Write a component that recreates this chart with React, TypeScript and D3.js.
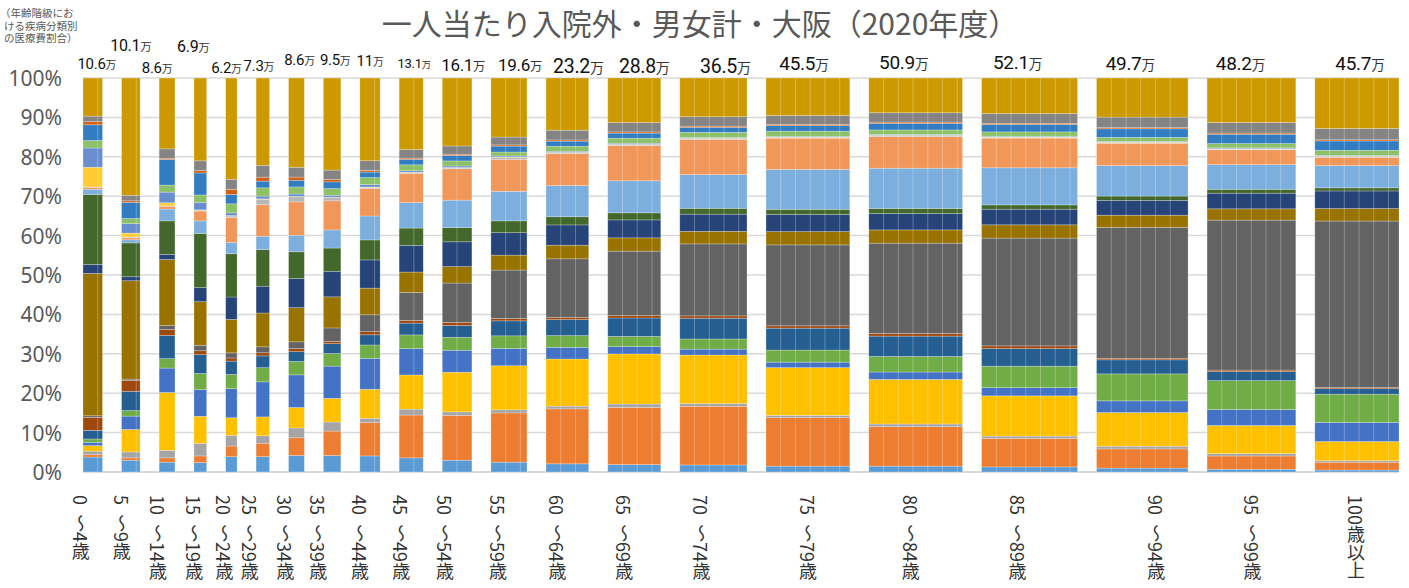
import React, { useRef, useEffect } from "react";
import * as d3 from "d3";

// 年齢階級
const ageGroups = [
  "0～4歳", "5～9歳", "10～14歳", "15～19歳", "20～24歳", "25～29歳", "30～34歳",
  "35～39歳", "40～44歳", "45～49歳", "50～54歳", "55～59歳", "60～64歳", "65～69歳",
  "70～74歳", "75～79歳", "80～84歳", "85～89歳", "90～94歳", "95～99歳", "100歳以上",
];

// 一人当たり医療費（万円）= 棒の幅
const totals = [10.6, 10.1, 8.6, 6.9, 6.2, 7.3, 8.6, 9.5, 11, 13.1, 16.1, 19.6, 23.2, 28.8, 36.5, 45.5, 50.9, 52.1, 49.7, 48.2, 45.7];

// 疾病分類別の割合（%）、下から順
const kansen = [3.8, 3.0, 2.5, 2.4, 3.9, 3.9, 4.2, 4.2, 4.1, 3.6, 3.0, 2.5, 2.1, 1.9, 1.8, 1.5, 1.5, 1.3, 1.0, 0.7, 0.5];
const shinseibutsu = [0.6, 0.6, 1.1, 1.7, 2.7, 3.4, 4.5, 6.2, 8.5, 10.9, 11.4, 12.5, 14.1, 14.6, 15.0, 12.4, 10.1, 7.3, 4.9, 3.4, 2.0];
const ketsueki = [0.9, 1.5, 1.9, 3.2, 2.7, 1.9, 2.5, 2.3, 1.1, 1.5, 0.9, 0.8, 0.7, 0.9, 0.7, 0.6, 0.7, 0.6, 0.7, 0.6, 0.4];
const naibunpi = [1.4, 5.7, 14.7, 6.9, 4.5, 4.8, 5.2, 6.0, 7.4, 8.7, 10.1, 11.2, 12.1, 12.8, 12.4, 12.2, 11.4, 10.3, 8.6, 7.2, 4.9];
const seishin = [0.85, 3.4, 6.2, 6.8, 7.4, 8.9, 8.3, 8.2, 7.9, 6.7, 5.6, 4.4, 3.0, 1.9, 1.5, 1.4, 1.9, 2.1, 3.0, 4.1, 4.9];
const shinkei = [0.85, 1.4, 2.4, 4.1, 3.6, 3.6, 3.4, 3.2, 3.4, 3.5, 3.3, 3.2, 3.0, 2.6, 2.6, 3.1, 4.0, 5.5, 6.9, 7.4, 7.2];
const me = [2.2, 4.9, 5.9, 4.8, 3.4, 3.0, 2.5, 2.5, 2.6, 3.0, 3.0, 3.8, 4.1, 4.7, 5.3, 5.6, 5.2, 4.5, 3.6, 2.3, 1.4];
const mimi = [3.3, 2.8, 1.5, 1.0, 0.8, 0.8, 0.8, 0.6, 0.8, 0.7, 0.8, 0.6, 0.6, 0.6, 0.6, 0.6, 0.7, 0.7, 0.4, 0.4, 0.3];
const junkanki = [0.4, 0.3, 1.0, 1.4, 1.3, 1.5, 1.7, 3.4, 4.3, 7.1, 10.0, 12.3, 15.0, 16.5, 18.4, 20.7, 23.1, 27.6, 33.5, 38.4, 42.6];
const kokyuki = [36.2, 25.0, 16.8, 11.1, 8.5, 8.6, 8.7, 7.9, 6.8, 5.2, 4.2, 3.8, 3.5, 3.4, 3.2, 3.4, 3.4, 3.4, 3.1, 2.9, 3.2];
const shokaki = [2.3, 1.0, 1.3, 3.6, 5.7, 6.8, 7.4, 6.5, 7.2, 6.8, 6.3, 5.7, 5.2, 4.6, 4.4, 4.4, 4.2, 4.0, 3.8, 4.0, 4.5];
const hifu = [17.8, 8.6, 8.5, 13.8, 11.0, 9.3, 6.8, 5.9, 5.1, 4.4, 3.6, 3.0, 2.1, 1.8, 1.5, 1.3, 1.3, 1.1, 1.1, 1.0, 0.8];
const kinkokkaku = [1.3, 0.8, 3.0, 3.2, 2.9, 3.4, 4.2, 4.6, 6.1, 6.5, 7.0, 7.5, 8.0, 8.2, 8.6, 10.2, 10.3, 9.5, 7.8, 6.3, 5.7];
const jinnyoro = [0.5, 0.5, 0.7, 2.5, 6.3, 8.0, 8.5, 7.4, 7.0, 7.4, 8.0, 8.1, 8.2, 9.0, 9.0, 8.0, 8.1, 7.6, 5.7, 3.8, 2.1];
const ninshin = [0.1, 0.2, 0.1, 0.2, 0.4, 1.4, 1.3, 0.8, 0.3, 0.2, 0.2, 0.5, 0.2, 0.2, 0.2, 0.2, 0.2, 0.2, 0.2, 0.2, 0.2];
const shusanki = [5.0, 1.0, 0.8, 0.1, 0.1, 0.1, 0.1, 0.1, 0.1, 0.1, 0.1, 0.1, 0.1, 0.1, 0.1, 0.1, 0.1, 0.1, 0.1, 0.1, 0.1];
const senten = [4.9, 2.4, 2.7, 1.9, 0.7, 0.7, 0.6, 0.5, 0.6, 0.4, 0.4, 0.3, 0.3, 0.3, 0.2, 0.2, 0.2, 0.2, 0.2, 0.2, 0.2];
const shojo = [1.9, 1.3, 1.8, 1.9, 2.3, 2.1, 1.8, 1.7, 1.8, 1.5, 1.3, 1.0, 1.3, 1.3, 1.3, 1.3, 1.2, 1.1, 1.0, 1.1, 1.3];
const sonsho = [4.0, 4.1, 6.5, 5.6, 2.4, 1.7, 1.7, 1.7, 1.4, 1.4, 1.4, 1.5, 1.3, 1.3, 1.3, 1.4, 1.7, 1.9, 2.2, 2.4, 2.4];
const tokushu = [0.8, 0.4, 0.3, 0.6, 1.3, 1.0, 0.8, 0.6, 0.4, 0.3, 0.3, 0.3, 0.3, 0.3, 0.3, 0.3, 0.3, 0.3, 0.3, 0.3, 0.3];
const kenko = [1.4, 1.4, 2.4, 2.5, 2.5, 3.0, 2.5, 2.4, 2.5, 2.2, 2.1, 2.0, 2.5, 2.4, 2.4, 2.3, 2.4, 2.5, 2.7, 2.7, 2.9];
const sonota = [9.7, 29.8, 18.0, 21.1, 25.8, 22.2, 22.7, 23.4, 21.1, 18.2, 17.3, 15.0, 13.4, 11.4, 9.9, 9.6, 8.9, 9.1, 10.0, 11.4, 12.9];

const categoryNames = [
  "感染症", "新生物", "血液", "内分泌", "精神", "神経", "眼", "耳", "循環器", "呼吸器", "消化器",
  "皮膚", "筋骨格", "腎尿路", "妊娠", "周産期", "先天奇形", "症状", "損傷", "特殊目的", "健康状態", "その他",
];
const categoryValues = [
  kansen, shinseibutsu, ketsueki, naibunpi, seishin, shinkei, me, mimi, junkanki, kokyuki, shokaki,
  hifu, kinkokkaku, jinnyoro, ninshin, shusanki, senten, shojo, sonsho, tokushu, kenko, sonota,
];
const yTicks = [0, 0.1, 0.2, 0.3, 0.4, 0.5, 0.6, 0.7, 0.8, 0.9, 1];

const palette = [
  "#5B9BD5", "#ED7D31", "#A5A5A5", "#FFC000", "#4472C4", "#70AD47", "#255E91", "#9E480E", "#636363", "#997300", "#264478",
  "#43682B", "#7CAFDD", "#F1975A", "#B7B7B7", "#FFCD33", "#698ED0", "#8CC168", "#327DC2", "#D26012", "#848484", "#CC9A00",
];

// 金額ラベル・年齢ラベルの手置き位置（棒中心からのずれ）
const labelY = [69, 51, 73, 52, 73, 71, 65, 65, 66, 68, 71, 71, 73, 73, 73, 70, 69, 69, 70, 70, 70];
const labelSize = [15, 16, 15, 16, 15, 15, 15, 15, 15, 13, 17, 17, 19.5, 19.5, 19.5, 19, 19, 19, 19, 19, 19];
const labelDx = [4, 0, -10, -7, -5, -4, 3, 3, 0, 3, 6, 11, 11, 10, 12, -4, -12, -12, -12, -11, 3];
const ageDx = [-12, -9, -9, -6, -7, -13, -11, -14, -10, -10, -12, -11, -10, -10, -12, 0, -5, -12, 14, 1, -1];

const JP = "'Noto Sans CJK JP', 'Noto Sans', sans-serif";

const App = () => {
  const svgRef = useRef<SVGSVGElement>(null);

  useEffect(() => {
    document.body.style.margin = "0";
    const width = 1409;
    const height = 588;
    const plot = { left: 83, right: 1399, top: 78, bottom: 472 };
    const gap = 19;

    const svg = d3.select(svgRef.current);
    svg.selectAll("*").remove();
    svg.attr("width", width).attr("height", height).attr("viewBox", `0 0 ${width} ${height}`);

    const rows = ageGroups.map((age, i) => {
      const row: any = { age, total: totals[i] };
      categoryNames.forEach((name, j) => (row[name] = categoryValues[j][i]));
      return row;
    });
    const series = d3.stack().keys(categoryNames).offset(d3.stackOffsetExpand)(rows);

    const n = totals.length;
    const xScale = d3.scaleLinear().domain([0, d3.sum(totals)]).range([0, plot.right - plot.left - gap * (n - 1)]);
    const cum = d3.cumsum(totals);
    const barX = totals.map((t, i) => plot.left + xScale(cum[i] - t) + i * gap);
    const barW = totals.map((t) => xScale(t));
    const yScale = d3.scaleLinear().domain([0, 1]).range([plot.bottom, plot.top]);
    const color = d3.scaleOrdinal<string, string>().domain(categoryNames).range(palette);

    // grid
    svg.append("g")
      .selectAll("line")
      .data(yTicks)
      .enter()
      .append("line")
      .attr("x1", plot.left)
      .attr("x2", plot.right)
      .attr("y1", (d) => yScale(d))
      .attr("y2", (d) => yScale(d))
      .attr("stroke", "#D9D9D9")
      .attr("stroke-width", (d) => (d === 0 ? 2 : 1.5));

    svg.append("g")
      .selectAll("text")
      .data(yTicks)
      .enter()
      .append("text")
      .attr("x", 62)
      .attr("y", (d) => yScale(d))
      .attr("text-anchor", "end")
      .attr("dominant-baseline", "central")
      .attr("font-family", "'Noto Sans', sans-serif")
      .attr("font-size", 21)
      .attr("fill", "#595959")
      .text((d) => d3.format(".0%")(d));

    // bars
    const layers = svg.append("g");
    series.forEach((s) => {
      layers.append("g")
        .attr("fill", color(s.key))
        .selectAll("rect")
        .data(s)
        .enter()
        .append("rect")
        .attr("x", (d, i) => barX[i])
        .attr("width", (d, i) => barW[i])
        .attr("y", (d) => yScale(d[1]))
        .attr("height", (d) => yScale(d[0]) - yScale(d[1]))
        .attr("stroke", "rgba(255,255,255,0.35)")
        .attr("stroke-width", 0.7);
    });

    // faint vertical seams inside the bars
    const seams = svg.append("g").attr("stroke", "rgba(255,255,255,0.28)").attr("stroke-width", 1);
    totals.forEach((t, i) => {
      for (let u = 8; u < t - 2; u += 8) {
        seams.append("line")
          .attr("x1", barX[i] + xScale(u))
          .attr("x2", barX[i] + xScale(u))
          .attr("y1", plot.top)
          .attr("y2", plot.bottom);
      }
    });

    // amount labels
    const labels = svg.append("g").attr("text-anchor", "middle").attr("fill", "#111");
    totals.forEach((t, i) => {
      const txt = labels.append("text")
        .attr("x", barX[i] + barW[i] / 2 + labelDx[i])
        .attr("y", labelY[i])
        .attr("font-family", "'Roboto', 'Noto Sans', sans-serif")
        .attr("font-size", labelSize[i])
        .attr("letter-spacing", -0.3);
      txt.append("tspan").text(String(t));
      txt.append("tspan").attr("font-family", JP).attr("font-size", labelSize[i] * 0.72).attr("fill", "#333").text("万");
    });

    // age labels (vertical)
    svg.append("g")
      .selectAll("text")
      .data(ageGroups)
      .enter()
      .append("text")
      .attr("x", (d, i) => barX[i] + barW[i] / 2 + ageDx[i])
      .attr("y", 495)
      .style("writing-mode", "vertical-rl")
      .style("text-orientation", "mixed")
      .attr("font-family", JP)
      .attr("font-size", 18)
      .attr("fill", "#333")
      .text((d) => d.replace("～", "\u2002～"));

    // title & note
    svg.append("text")
      .attr("x", 700)
      .attr("y", 35)
      .attr("text-anchor", "middle")
      .attr("font-family", JP)
      .attr("font-size", 30)
      .attr("fill", "#595959")
      .text("一人当たり入院外・男女計・大阪（2020年度）");

    const note = svg.append("text")
      .attr("font-family", JP)
      .attr("font-size", 10.5)
      .attr("fill", "#595959");
    ["（年齢階級にお", "ける疾病分類別", "の医療費割合）"].forEach((line, i) => {
      note.append("tspan").attr("x", i === 0 ? 0 : 4).attr("y", 17 + i * 12.5).text(line);
    });
  }, []);

  return <svg ref={svgRef} style={{ display: "block" }}></svg>;
};

export default App;
